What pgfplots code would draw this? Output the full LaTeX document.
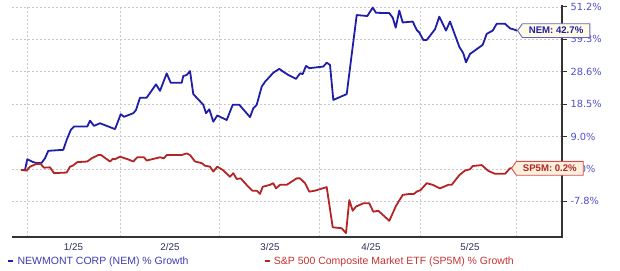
\documentclass[border=0pt]{standalone}
\usepackage{pgfplots}
\pgfplotsset{compat=1.18}
\usepackage{fontspec}
\setmainfont{Liberation Sans}
\newfontfamily\dejavu{DejaVu Sans}
\usetikzlibrary{shapes.symbols}
\definecolor{nemblue}{HTML}{1E1EAA}
\definecolor{spred}{HTML}{B42424}
\definecolor{ytl}{HTML}{5050C8}
\definecolor{xtl}{HTML}{2E2E5E}
\definecolor{axgray}{HTML}{333333}
\definecolor{gridgray}{HTML}{C8C8C8}
\definecolor{legblue}{HTML}{3C3CB4}
\definecolor{legred}{HTML}{C83232}
\definecolor{nemfill}{HTML}{FFFBE2}
\definecolor{nemdraw}{HTML}{6464C8}
\definecolor{spfill}{HTML}{FCF0DC}
\definecolor{spdraw}{HTML}{D05050}
\begin{document}
\begin{tikzpicture}[x=1pt,y=1pt]
\useasboundingbox (0,0) rectangle (620,270);
\begin{axis}[
  at={(12pt,33pt)}, anchor=south west,
  scale only axis, width=550pt, height=232pt,
  xmin=12, xmax=562, ymin=-2.10, ymax=5.06,
  clip=false,
  axis line style={draw=none},
  xtick={73.5,170,270,371,470},
  xticklabels={1/25,2/25,3/25,4/25,5/25},
  minor xtick={27,120,219,319,420,516},
  xminorgrids=true, xmajorgrids=false,
  xtick style={draw=none},
  minor x tick style={draw=none},
  x tick label style={font=\fontsize{9.8}{11}\selectfont, text=xtl, yshift=2pt},
  ytick={-1,0,1,2,3,4,5},
  yticklabels={-7.8\%,0.0\%,9.0\%,18.5\%,28.6\%,39.3\%,51.2\%},
  ytick pos=right, yticklabel pos=right,
  ymajorgrids=true,
  tick align=outside, major tick length=5pt,
  ytick style={draw=axgray, line width=1pt},
  y tick label style={font=\dejavu\fontsize{9.8}{11}\selectfont, text=ytl, anchor=west},
  grid style={draw=gridgray, dash pattern=on 2pt off 2pt, line width=0.6pt},
  minor grid style={draw=gridgray, dash pattern=on 2pt off 2pt, line width=0.6pt},
  legend columns=2,
  legend cell align=left,
  legend style={at={(-0.009,-0.1034)}, anchor=west, draw=none, fill=none,
    inner sep=0pt, font=\fontsize{10.5}{12}\selectfont,
    /tikz/every even column/.append style={column sep=72pt},
    nodes={inner xsep=3pt}},
  legend image code/.code={\draw[line width=2.4pt] (0pt,0pt) -- (5pt,0pt);},
]
\addplot[nemblue, line width=1.8pt, line join=round] coordinates {
(21,-0.03)(25,-0.03)(27.3,0.30)(33.3,0.21)(37.3,0.18)(41.7,0.19)(45,0.33)(48.3,0.56)
(63.3,0.59)(66.7,0.90)(70.7,1.20)(74,1.31)(87.3,1.31)(90,1.49)(94,1.33)(100,1.41)
(115,1.23)(117.3,1.41)(120.7,1.69)(124,1.61)(133.3,1.72)(136,1.82)(140,2.20)(146.7,2.20)
(156,2.61)(160,2.41)(166.7,2.95)(170.7,2.66)(181.7,2.66)(183.3,2.87)(186.7,2.90)(190,3.02)
(193.3,2.31)(203.3,1.98)(206,1.72)(209.3,1.84)(213.3,1.46)(217.3,1.65)(226.7,1.51)(232.7,1.98)
(239.3,1.98)(250,1.60)(253.3,1.87)(256.7,1.98)(261.7,2.54)(265,2.69)(273.3,2.97)(279.3,3.09)
(283.3,3.00)(288.3,2.90)(296,2.78)(300,2.95)(302.7,2.93)(306,3.18)(309.3,3.11)(323.3,3.16)
(326.7,3.28)(330,3.21)(333.3,2.13)(346.7,2.31)(356.7,4.75)(367.3,4.72)(372.7,4.98)(376,4.82)
(389.3,4.81)(392.7,4.67)(395.7,4.36)(399.3,4.89)(402.7,4.52)(412.7,4.55)(416.7,4.29)(419.3,4.21)
(423.3,3.98)(426.7,3.98)(435,4.31)(439.3,4.70)(446,4.27)(450,4.55)(459.3,3.77)(463.3,3.57)
(466,3.29)(470,3.55)(482.7,3.83)(486.7,4.17)(492.7,4.27)(496.7,4.48)(505,4.48)(510,4.34)
(513.3,4.31)(517,4.27)
};
\addlegendentry{\textcolor{legblue}{NEWMONT CORP (NEM) \% Growth}}
\addplot[spred, line width=1.8pt, line join=round] coordinates {
(21,-0.03)(26.7,-0.05)(30,0.07)(36,0.15)(40.7,0.15)(44,0.04)(50,0.05)(54,-0.13)
(66.7,-0.11)(70,0.07)(72.7,0.10)(77.3,0.21)(87.3,0.23)(91.7,0.33)(98.3,0.43)(101,0.43)
(110,0.23)(112.7,0.31)(115,0.30)(120,0.38)(127.7,0.30)(133.3,0.23)(137.3,0.36)(144,0.36)
(146.7,0.26)(153.3,0.31)(160,0.36)(164,0.33)(166.7,0.43)(181.7,0.43)(186.7,0.48)(190,0.43)
(195,0.23)(201.7,0.18)(205,0.10)(210,0.07)(213.3,-0.08)(217.3,0.07)(222.7,-0.03)(230,-0.24)
(233.3,-0.13)(236.7,-0.31)(240.7,-0.29)(248.3,-0.55)(252.3,-0.67)(256.7,-0.67)(260,-0.77)(262.7,-0.55)
(270,-0.49)(273.3,-0.44)(276,-0.60)(280,-0.49)(286.7,-0.49)(296.7,-0.29)(300,-0.29)(305,-0.44)
(309.3,-0.70)(315,-0.67)(326.7,-0.56)(332.7,-1.80)(341.7,-1.83)(346,-1.98)(349.3,-0.96)(352.7,-1.29)
(356,-1.16)(363.3,-1.06)(369.3,-1.06)(373.3,-1.32)(378.3,-1.29)(389.3,-1.60)(396,-1.14)(402.7,-0.80)
(410,-0.77)(414,-0.77)(416.7,-0.70)(420.7,-0.65)(426.7,-0.44)(432.7,-0.49)(440,-0.60)(448.3,-0.49)
(451.7,-0.49)(459.3,-0.19)(465,-0.05)(470,-0.01)(472.7,0.09)(481.7,0.12)(488.3,-0.06)(495,-0.15)
(505,-0.15)(510,0.02)(512,0.02)
};
\addlegendentry{\textcolor{legred}{S\&P 500 Composite Market ETF (SP5M) \% Growth}}
\draw[axgray, line width=2pt] (rel axis cs:0,0) -- (rel axis cs:1,0) -- (rel axis cs:1,1);
\node[signal, signal to=west, signal pointer angle=110, draw=nemdraw, fill=nemfill, line width=0.9pt,
  inner xsep=6.5pt, inner ysep=3.5pt, anchor=west, text=nemblue,
  font=\bfseries\fontsize{9.6}{11}\selectfont] at (axis cs:517,4.27) {NEM: 42.7\%};
\node[signal, signal to=west, signal pointer angle=110, draw=spdraw, fill=spfill, line width=0.9pt,
  inner xsep=6.5pt, inner ysep=3.5pt, anchor=west, text=spred,
  font=\bfseries\fontsize{9.6}{11}\selectfont] at (axis cs:511,0.02) {SP5M: 0.2\%};
\end{axis}
\end{tikzpicture}
\end{document}
